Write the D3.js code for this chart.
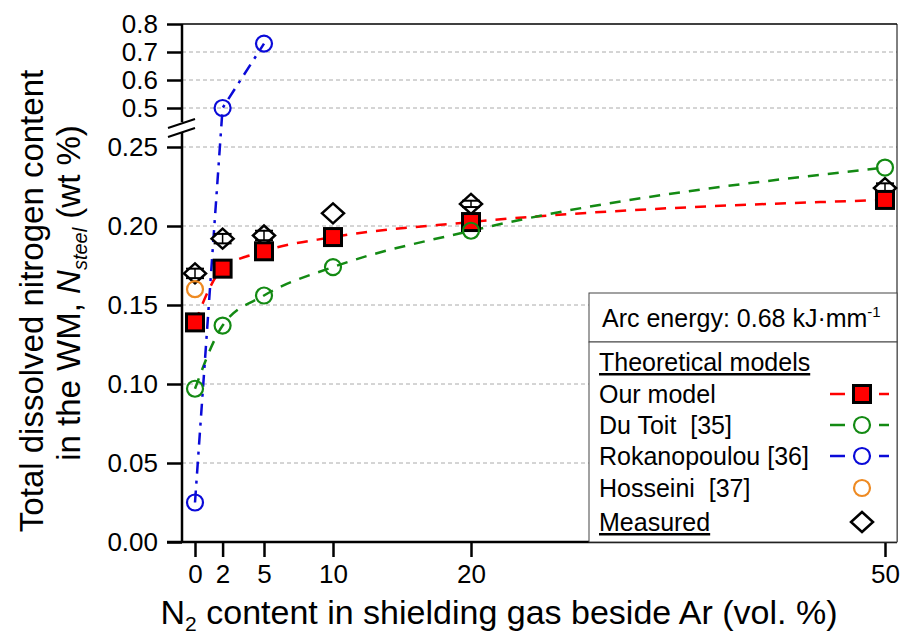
<!DOCTYPE html>
<html>
<head>
<meta charset="utf-8">
<script src="https://cdn.jsdelivr.net/npm/d3@7"></script>
<style>
  body { margin: 0; background: white; }
  text { font-family: "Liberation Sans", Arial, sans-serif; white-space: pre; }
</style>
</head>
<body>
<div id="chart"></div>
<script>
// data
var n2Content = [0, 2, 5, 10, 20, 50];
var ourModel = [0.139, 0.173, 0.184, 0.193, 0.2025, 0.2165];
var duToit = [0.097, 0.137, 0.156, 0.174, 0.197, 0.237];
var rokanoX = [0, 2, 5];
var rokanopoulou = [0.025, 0.50, 0.73];
var hosseiniX = [0];
var hosseini = [0.160];
var measured = [0.170, 0.192, 0.194, 0.208, 0.214, 0.224];
var measuredErr = [0.003, 0.003, 0.003, 0, 0.002, 0.003];
var xTicks = [0, 2, 5, 10, 20, 50];
var yTicksLow = [0, 0.05, 0.10, 0.15, 0.20, 0.25];
var yTicksHigh = [0.5, 0.6, 0.7, 0.8];

var width = 901, height = 640;
var plotL = 182, plotR = 897, plotT = 24, plotB = 542;

var svg = d3.select("#chart").append("svg")
    .attr("width", width)
    .attr("height", height)
    .style("background", "white");

var x = d3.scaleLinear().domain([0, 50]).range([195, 885]);
// broken axis: lower part 0-0.25, upper part 0.5-0.8
var y = d3.scaleLinear().domain([0, 0.25, 0.5, 0.8]).range([plotB, 147, 108, plotT]);

// gridlines
var grid = yTicksLow.filter(function(d) { return d > 0; }).concat(yTicksHigh.filter(function(d) { return d < 0.8; }));
svg.selectAll(".grid").data(grid).enter().append("line")
    .attr("x1", plotL).attr("x2", plotR)
    .attr("y1", function(d) { return y(d); })
    .attr("y2", function(d) { return y(d); })
    .attr("stroke", "#aaa").attr("stroke-width", 1).attr("stroke-dasharray", "4,3");

// lines
var line = function(xs, ys, curve) {
    return d3.line()
        .x(function(d, i) { return x(xs[i]); })
        .y(function(d) { return y(d); })
        .curve(curve)(ys);
};
svg.append("path").attr("d", line(n2Content, ourModel, d3.curveMonotoneX))
    .attr("fill", "none").attr("stroke", "#ff0000").attr("stroke-width", 2.5).attr("stroke-dasharray", "11,9");
svg.append("path").attr("d", line(n2Content, duToit, d3.curveMonotoneX))
    .attr("fill", "none").attr("stroke", "#138a13").attr("stroke-width", 2.5).attr("stroke-dasharray", "11,9");
svg.append("path").attr("d", line(rokanoX, rokanopoulou, d3.curveLinear))
    .attr("fill", "none").attr("stroke", "#0a0ad8").attr("stroke-width", 2.5).attr("stroke-dasharray", "12,7,3,7");

// measured diamonds with error bars
var diamond = function(cx, cy) {
    return "M" + cx + "," + (cy - 10) + "L" + (cx + 11) + "," + cy + "L" + cx + "," + (cy + 10) + "L" + (cx - 11) + "," + cy + "Z";
};
var meas = svg.selectAll(".meas").data(measured).enter().append("g");
meas.append("path")
    .attr("d", function(d, i) { return diamond(x(n2Content[i]), y(d)); })
    .attr("fill", "white").attr("stroke", "black").attr("stroke-width", 2.5);
meas.each(function(d, i) {
    if (measuredErr[i] == 0) return;
    var g = d3.select(this), cx = x(n2Content[i]);
    var y1 = y(d - measuredErr[i]), y2 = y(d + measuredErr[i]);
    g.append("line").attr("x1", cx).attr("x2", cx).attr("y1", y1).attr("y2", y2).attr("stroke", "black").attr("stroke-width", 1.5);
    [y1, y2].forEach(function(yy) {
        g.append("line").attr("x1", cx - 9).attr("x2", cx + 9).attr("y1", yy).attr("y2", yy).attr("stroke", "black").attr("stroke-width", 2);
    });
});

// our model squares
svg.selectAll(".sq").data(ourModel).enter().append("rect")
    .attr("x", function(d, i) { return x(n2Content[i]) - 8.5; })
    .attr("y", function(d) { return y(d) - 8.5; })
    .attr("width", 17).attr("height", 17)
    .attr("fill", "#ff0000").attr("stroke", "black").attr("stroke-width", 3);

// circles
var circles = function(xs, ys, color) {
    svg.selectAll(null).data(ys).enter().append("circle")
        .attr("cx", function(d, i) { return x(xs[i]); })
        .attr("cy", function(d) { return y(d); })
        .attr("r", 8)
        .attr("fill", "none").attr("stroke", color).attr("stroke-width", 2.2);
};
circles(n2Content, duToit, "#138a13");
circles(rokanoX, rokanopoulou, "#0a0ad8");
circles(hosseiniX, hosseini, "#ee8a22");

// axes
var yAxis = svg.append("g").attr("transform", "translate(" + plotL + ",0)")
    .call(d3.axisLeft(y).tickValues(yTicksLow).tickFormat(d3.format(".2f")).tickSize(15).tickPadding(9));
var yAxis2 = svg.append("g").attr("transform", "translate(" + plotL + ",0)")
    .call(d3.axisLeft(y).tickValues(yTicksHigh).tickFormat(d3.format(".1f")).tickSize(15).tickPadding(9));
var xAxis = svg.append("g").attr("transform", "translate(0," + plotB + ")")
    .call(d3.axisBottom(x).tickValues(xTicks).tickFormat(d3.format("d")).tickSize(15).tickPadding(8));
[yAxis, yAxis2, xAxis].forEach(function(a) {
    a.select(".domain").remove();
    a.selectAll("line").attr("stroke", "black").attr("stroke-width", 2.5);
    a.selectAll("text").attr("font-size", "26px").attr("fill", "black").style("font-family", "Liberation Sans, Arial, sans-serif");
});

// frame
svg.append("line").attr("x1", plotL).attr("x2", plotL).attr("y1", plotT).attr("y2", 122).attr("stroke", "black").attr("stroke-width", 2.5);
svg.append("line").attr("x1", plotL).attr("x2", plotL).attr("y1", 132).attr("y2", plotB).attr("stroke", "black").attr("stroke-width", 2.5);
svg.append("line").attr("x1", 167).attr("x2", plotR).attr("y1", plotB).attr("y2", plotB).attr("stroke", "black").attr("stroke-width", 2.5);
svg.append("line").attr("x1", plotL).attr("x2", plotR).attr("y1", plotT).attr("y2", plotT).attr("stroke", "black").attr("stroke-width", 1.5);
svg.append("line").attr("x1", plotR).attr("x2", plotR).attr("y1", plotT).attr("y2", plotB).attr("stroke", "black").attr("stroke-width", 1);

// break marks
svg.append("line").attr("x1", 168).attr("y1", 128).attr("x2", 195).attr("y2", 119).attr("stroke", "black").attr("stroke-width", 2);
svg.append("line").attr("x1", 168).attr("y1", 137).attr("x2", 195).attr("y2", 128).attr("stroke", "black").attr("stroke-width", 2);

// legend
var lx = 589;
svg.append("rect").attr("x", lx).attr("y", 293).attr("width", plotR - lx).attr("height", 49)
    .attr("fill", "white").attr("stroke", "#444").attr("stroke-width", 1);
svg.append("rect").attr("x", lx).attr("y", 342).attr("width", plotR - lx).attr("height", plotB - 342)
    .attr("fill", "white").attr("stroke", "#444").attr("stroke-width", 1);

var legendFont = "25px";
var arc = svg.append("text").attr("x", 602).attr("y", 327).attr("font-size", legendFont);
arc.append("tspan").text("Arc energy: 0.68 kJ\u00b7mm");
arc.append("tspan").attr("font-size", "15px").attr("dy", -10).text("-1");

var legendNames = ["Our model", "Du Toit  [35]", "Rokanopoulou [36]", "Hosseini  [37]"];
var legendColors = ["#ff0000", "#138a13", "#0a0ad8", "#ee8a22"];
var rowY = [394, 425, 456, 488];
var symX = 862;

svg.append("text").attr("x", 599).attr("y", 371).attr("font-size", legendFont)
    .attr("text-decoration", "underline").text("Theoretical models");
svg.append("text").attr("x", 599).attr("y", 531).attr("font-size", legendFont)
    .attr("text-decoration", "underline").text("Measured");

legendNames.forEach(function(name, i) {
    svg.append("text").attr("x", 599).attr("y", rowY[i] + 9).attr("font-size", legendFont).text(name);
    if (i < 3) {
        [[830, 845], [879, 889]].forEach(function(s) {
            svg.append("line").attr("x1", s[0]).attr("x2", s[1]).attr("y1", rowY[i]).attr("y2", rowY[i])
                .attr("stroke", legendColors[i]).attr("stroke-width", 2.5);
        });
    }
    if (i == 0) {
        svg.append("rect").attr("x", symX - 8.5).attr("y", rowY[i] - 8.5).attr("width", 17).attr("height", 17)
            .attr("fill", "#ff0000").attr("stroke", "black").attr("stroke-width", 3);
    } else {
        svg.append("circle").attr("cx", symX).attr("cy", rowY[i]).attr("r", 8)
            .attr("fill", "none").attr("stroke", legendColors[i]).attr("stroke-width", 2.2);
    }
});
svg.append("path").attr("d", diamond(symX, 522)).attr("fill", "white").attr("stroke", "black").attr("stroke-width", 2.5);

// axis titles
var titleFont = "33px";
var xt = svg.append("text").attr("x", 499).attr("y", 624).attr("text-anchor", "middle").attr("font-size", "34px");
xt.append("tspan").text("N");
xt.append("tspan").attr("font-size", "21px").attr("dy", 7).text("2");
xt.append("tspan").attr("dy", -7).text(" content in shielding gas beside Ar (vol. %)");

svg.append("text").attr("text-anchor", "middle").attr("font-size", titleFont)
    .attr("transform", "translate(43,301)rotate(-90)")
    .text("Total dissolved nitrogen content");
var yt = svg.append("text").attr("text-anchor", "middle").attr("font-size", titleFont)
    .attr("transform", "translate(80,293)rotate(-90)");
yt.append("tspan").text("in the WM, ");
yt.append("tspan").attr("font-style", "italic").text("N");
yt.append("tspan").attr("font-style", "italic").attr("font-size", "20px").attr("dy", 7).text("steel");
yt.append("tspan").attr("dy", -7).text(" (wt %)");
</script>
</body>
</html>
